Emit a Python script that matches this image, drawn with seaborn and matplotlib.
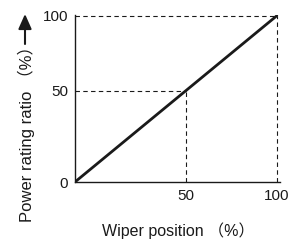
import numpy as np
import matplotlib
matplotlib.use("Agg")
import matplotlib.pyplot as plt
import seaborn as sns

# wiper position vs power rating ratio (%)
wiper = [0, 50, 100]
power = [0, 50, 100]
ticks = [50, 100]
yticks = [0, 50, 100]

sns.set_style("ticks")
plt.rcParams['font.family'] = ['Liberation Sans Narrow', 'Liberation Sans', 'Noto Sans CJK JP', 'DejaVu Sans']

# the drawing puts the 50 marks a bit past half way, so a mild power scale
k = np.log(0.55) / np.log(0.5)
fwd = lambda v: np.sign(v) * np.abs(v) ** k
inv = lambda v: np.sign(v) * np.abs(v) ** (1 / k)

fig = plt.figure(figsize=(3.01, 2.43), dpi=100)
ax = fig.add_axes([0.249, 0.251, 0.681, 0.687])
ax.set_xscale('function', functions=(fwd, inv))
ax.set_yscale('function', functions=(fwd, inv))

sns.lineplot(x=wiper, y=power, ax=ax, color='#1a1a1a', linewidth=2.0)

# dashed guides
for v in ticks:
    ax.plot([v, v], [0, v], color='#1a1a1a', lw=0.8, ls=(0, (4, 3)))
    ax.plot([0, v], [v, v], color='#1a1a1a', lw=0.8, ls=(0, (4, 3)))

ax.set_xlim(0, 101.8)
ax.set_ylim(0, 100.5)
ax.set_xticks(ticks)
ax.set_yticks(yticks)
ax.tick_params(length=0, pad=5, labelsize=11, colors='#1a1a1a')
sns.despine(ax=ax)
for s in ['left', 'bottom']:
    ax.spines[s].set_linewidth(1.0)
    ax.spines[s].set_color('#1a1a1a')

ax.set_xlabel('Wiper position （%）', fontsize=11.5, color='#1a1a1a')
ax.xaxis.set_label_coords(0.505, -0.24)
ax.set_ylabel('Power rating ratio （%）', fontsize=12, color='#1a1a1a')
ax.yaxis.set_label_coords(-0.195, 0.314)

# arrow above the y label
fig.add_artist(matplotlib.patches.FancyArrowPatch(
    (25 / 301, 1 - 44 / 243), (25 / 301, 1 - 14 / 243), transform=fig.transFigure,
    arrowstyle='-|>,head_length=9,head_width=4', color='#1a1a1a', lw=1.5,
    shrinkA=0, shrinkB=0))

fig.savefig('out.png', dpi=100)
